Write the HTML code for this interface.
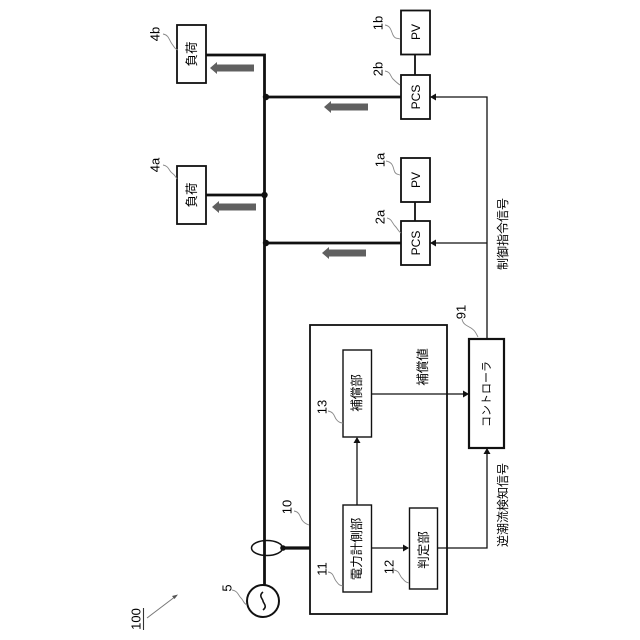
<!DOCTYPE html>
<html><head><meta charset="utf-8"><style>
html,body{margin:0;padding:0;background:#fff}
svg{display:block}
text{font-family:"Liberation Sans","Noto Sans CJK JP",sans-serif;fill:#000;text-anchor:middle;dominant-baseline:central}
.b{fill:#fff;stroke:#111;stroke-width:1.800}
.l{stroke:#111;fill:none}
.q{stroke:#888;stroke-width:.9;fill:none}
</style></head><body>
<svg width="640" height="640" viewBox="0 0 640 640" xmlns="http://www.w3.org/2000/svg">
<defs>
<g id="ga"><path d="M0 0l7-6v2.500h37v7H7V6z" fill="#606060"/></g>
</defs>
<!-- bus -->
<path class="l" stroke-width="2.800" d="M206 55H264.500V585M206 195H264.500M264.500 97H401M264.500 243H401"/>
<path class="l" stroke-width="3.200" d="M283 548H343"/>
<circle cx="266" cy="97" r="3.200" fill="#111"/><circle cx="264.500" cy="195" r="3.200" fill="#111"/><circle cx="266" cy="243" r="3.200" fill="#111"/><circle cx="283" cy="548" r="2.800" fill="#111"/>
<path class="l" stroke-width="1.800" d="M415 55V75M415 202V221"/>
<!-- grey arrows -->
<use href="#ga" x="210" y="68"/><use href="#ga" x="212" y="207"/><use href="#ga" x="324" y="107"/><use href="#ga" x="322" y="253"/>
<!-- boxes -->
<rect class="b" x="401" y="10.500" width="29" height="44"/>
<rect class="b" x="401" y="75" width="29" height="44"/>
<rect class="b" x="401" y="158" width="29" height="44"/>
<rect class="b" x="401" y="221" width="29" height="44"/>
<rect class="b" x="177" y="25" width="29" height="58"/>
<rect class="b" x="177" y="166" width="29" height="58"/>
<rect class="b" x="310" y="325" width="137" height="289"/>
<rect class="b" x="343" y="350" width="28.500" height="87" style="stroke-width:1.400"/>
<rect class="b" x="343" y="505" width="28.500" height="87" style="stroke-width:1.400"/>
<rect class="b" x="409.500" y="508" width="28" height="81" style="stroke-width:1.400"/>
<rect class="b" x="469" y="339" width="35" height="109" style="stroke-width:2.200"/>
<!-- thin connections -->
<path class="l" stroke-width="1.300" d="M487 339V97H431M487 243H431M371.500 394H468M357 505V438M371.500 548H408M437.500 548H487V449"/>
<path d="M430 97l6-3.500v7zM430 243l6-3.500v7zM469 394l-6-3.500v7zM357 437l-3.500 6h7zM409 548l-6-3.500v7zM487 448l-3.500 6h7z" fill="#111"/>
<!-- ellipse & source -->
<ellipse cx="267" cy="548" rx="15.500" ry="7.500" fill="none" stroke="#111" stroke-width="1.500"/>
<circle cx="263" cy="601" r="16" fill="#fff" stroke="#111" stroke-width="2"/>
<path class="l" stroke-width="1.600" d="M263 592c-5 4 0 7 0 9s5 5 0 9"/>
<!-- 100 arrow -->
<path stroke="#777" stroke-width="1" fill="none" d="M147 618L176 596"/>
<path d="M178 594.500l-6 1.500 2.500 3z" fill="#555"/>
<path stroke="#333" stroke-width="1.100" d="M143.500 608V630"/>
<!-- leaders -->
<path class="q" d="M163 34c6 1 6 6 9 10s3 5 6 6"/>
<path class="q" d="M163 165c6 1 6 6 9 8s3 3 5 6"/>
<path class="q" d="M385 25c6 1 6 6 8 10s4 3 7 4"/>
<path class="q" d="M385 71c6 1 5 5 8 8s4 4 7 6"/>
<path class="q" d="M386 161c6 1 7 5 8 9s3 4 6 5"/>
<path class="q" d="M387 218c5 1 5 5 8 8s3 5 6 7"/>
<path class="q" d="M232 590c6 1 6 5 9 8s2 5 6 7"/>
<path class="q" d="M294 511c6 1 6 6 8 9s4 4 7 5"/>
<path class="q" d="M328 572c6 1 5 5 8 9s3 4 7 5"/>
<path class="q" d="M394 570c6 1 5 5 8 8s3 4 7 5"/>
<path class="q" d="M328 411c6 1 6 5 8 8s4 4 7 4"/>
<path class="q" d="M462 319c1 6 6 7 9 9s4 3 7 9"/>
<!-- labels -->
<g font-size="12">
<text transform="translate(416 32) rotate(-90)">PV</text>
<text transform="translate(416 97) rotate(-90)">PCS</text>
<text transform="translate(416 180) rotate(-90)">PV</text>
<text transform="translate(416 243) rotate(-90)">PCS</text>
</g>
<g font-size="12.500">
<text transform="translate(192 54) rotate(-90)">負荷</text>
<text transform="translate(192 195) rotate(-90)">負荷</text>
</g>
<g font-size="13">
<text transform="translate(155 34) rotate(-90)">4b</text>
<text transform="translate(155 165) rotate(-90)">4a</text>
<text transform="translate(378 23) rotate(-90)">1b</text>
<text transform="translate(378 69) rotate(-90)">2b</text>
<text transform="translate(380 160) rotate(-90)">1a</text>
<text transform="translate(380 217) rotate(-90)">2a</text>
<text transform="translate(227 588) rotate(-90)">5</text>
<text transform="translate(287 507) rotate(-90)">10</text>
<text transform="translate(322 569) rotate(-90)">11</text>
<text transform="translate(389 567) rotate(-90)">12</text>
<text transform="translate(322 407) rotate(-90)">13</text>
<text transform="translate(461 312) rotate(-90)">91</text>
<text transform="translate(136 619) rotate(-90)">100</text>
</g>
<g font-size="12.500">
<text transform="translate(357 549) rotate(-90)">電力計側部</text>
<text transform="translate(424 550) rotate(-90)">判定部</text>
<text transform="translate(357 393) rotate(-90)">補償部</text>
<text transform="translate(423 367) rotate(-90)">補償値</text>
<text transform="translate(487 394) rotate(-90)" font-size="11">コントローラ</text>
<text transform="translate(503 234) rotate(-90)" font-size="12">制御指令信号</text>
<text transform="translate(503 505) rotate(-90)" font-size="12">逆潮流検知信号</text>
</g>
</svg>
</body></html>
